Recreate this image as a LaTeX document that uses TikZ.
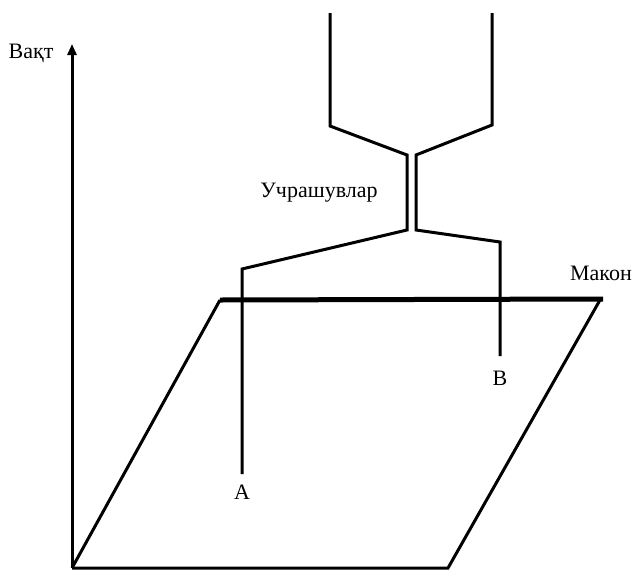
\documentclass[tikz,border=0pt]{standalone}
\usepackage{fontspec}
\setmainfont{Liberation Serif}
\usepackage{tikz}
\usetikzlibrary{arrows.meta}

\begin{document}
\begin{tikzpicture}[x=1pt,y=-1pt,line width=3pt,
    lbl/.style={font=\fontsize{22}{26}\selectfont}]
    \useasboundingbox (0,0) rectangle (637,571);
    % axis and plane
    \coordinate (o) at (72,568);
    \coordinate (top) at (72,44);
    \coordinate (p1) at (448,568);
    \coordinate (p2) at (600,300);
    \coordinate (p3) at (220,300);
    \draw[-{Triangle[length=11pt,width=9pt]}] (o) -- (top);
    \draw (o) -- (p1) -- (p2);
    \draw (p3) -- (o);
    \draw[line width=5pt] (p3) -- (603,299);
    % world lines
    \coordinate (a0) at (242,474);
    \coordinate (a1) at (242,269);
    \coordinate (b0) at (500,356);
    \coordinate (b1) at (500,242);
    \draw (a0) -- (a1) -- (407,230) -- (407,155) -- (330,126) -- (330,13);
    \draw (b0) -- (b1) -- (416,230) -- (416,155) -- (492,125) -- (492,13);
    % labels
    \node[lbl] (t) at (31,53) {Вақт};
    \node[lbl] (m) at (601,273) {Макон};
    \node[lbl] (u) at (319,193) {Учрашувлар};
    \node[lbl] (A) at (242,492) {A};
    \node[lbl] (B) at (500,378) {B};
\end{tikzpicture}
\end{document}
